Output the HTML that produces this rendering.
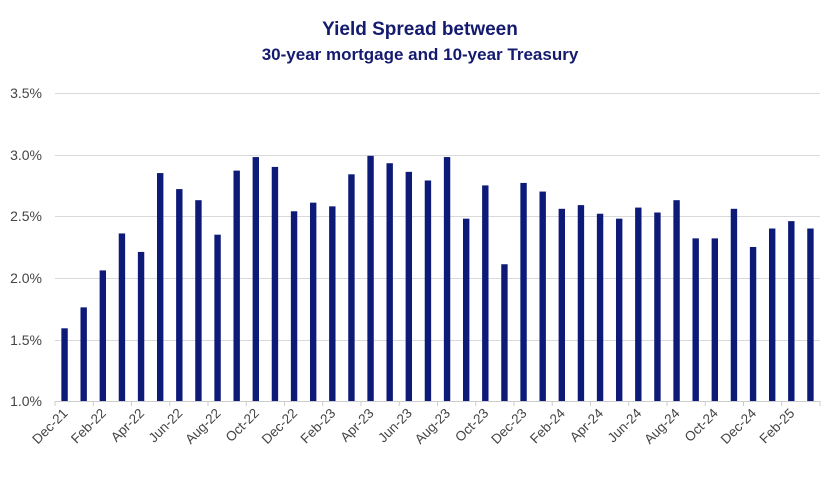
<!DOCTYPE html>
<html><head><meta charset="utf-8"><style>
html,body{margin:0;padding:0;background:#fff;}
body{width:840px;height:472px;overflow:hidden;font-family:"Liberation Sans",sans-serif;}
</style></head><body>
<svg width="840" height="472" xmlns="http://www.w3.org/2000/svg" font-family="Liberation Sans, sans-serif">
<text x="420" y="35" text-anchor="middle" font-size="19" font-weight="bold" fill="#141a6e">Yield Spread between</text>
<text x="420" y="60" text-anchor="middle" font-size="17" font-weight="bold" fill="#141a6e">30-year mortgage and 10-year Treasury</text>
<g stroke="#d9d9d9" stroke-width="1">
<line x1="55" x2="820" y1="93.5" y2="93.5"/>
<line x1="55" x2="820" y1="155.5" y2="155.5"/>
<line x1="55" x2="820" y1="216.5" y2="216.5"/>
<line x1="55" x2="820" y1="278.5" y2="278.5"/>
<line x1="55" x2="820" y1="340.5" y2="340.5"/>
</g>
<g font-size="14" fill="#444" text-anchor="end">
<text x="42" y="98">3.5%</text><text x="42" y="160">3.0%</text><text x="42" y="221">2.5%</text>
<text x="42" y="283">2.0%</text><text x="42" y="345">1.5%</text><text x="42" y="406">1.0%</text>
</g>
<g id="bars" fill="#0d1a78"></g>
<line x1="55" x2="820" y1="401.5" y2="401.5" stroke="#ccc"/>
<g id="ticks" stroke="#ccc"></g>
<g id="labels" font-size="13.5" fill="#444" text-anchor="end"></g>
</svg>
<script>
var v=[1.59,1.76,2.06,2.36,2.21,2.85,2.72,2.63,2.35,2.87,2.98,2.90,2.54,2.61,2.58,2.84,2.99,2.93,2.86,2.79,2.98,2.48,2.75,2.11,2.77,2.70,2.56,2.59,2.52,2.48,2.57,2.53,2.63,2.32,2.32,2.56,2.25,2.40,2.46,2.40];
var L=["Dec-21","Feb-22","Apr-22","Jun-22","Aug-22","Oct-22","Dec-22","Feb-23","Apr-23","Jun-23","Aug-23","Oct-23","Dec-23","Feb-24","Apr-24","Jun-24","Aug-24","Oct-24","Dec-24","Feb-25"];
var ns="http://www.w3.org/2000/svg",s=19.125,b=document.getElementById("bars"),t=document.getElementById("ticks"),l=document.getElementById("labels");
v.forEach(function(d,i){var c=55+s*(i+0.5),y=401-(d-1)*123.2;var r=document.createElementNS(ns,"rect");r.setAttribute("x",c-3.2);r.setAttribute("width",6.4);r.setAttribute("y",y);r.setAttribute("height",401-y);b.appendChild(r);});
for(var k=0;k<=20;k++){var x=55+2*s*k;var ln=document.createElementNS(ns,"line");ln.setAttribute("x1",x);ln.setAttribute("x2",x);ln.setAttribute("y1",401);ln.setAttribute("y2",406);t.appendChild(ln);}
L.forEach(function(n,k){var c=55+s*(2*k+0.5)+4,y=414;var e=document.createElementNS(ns,"text");e.setAttribute("transform","translate("+c+","+y+") rotate(-45)");e.textContent=n;l.appendChild(e);});
</script>
</body></html>
